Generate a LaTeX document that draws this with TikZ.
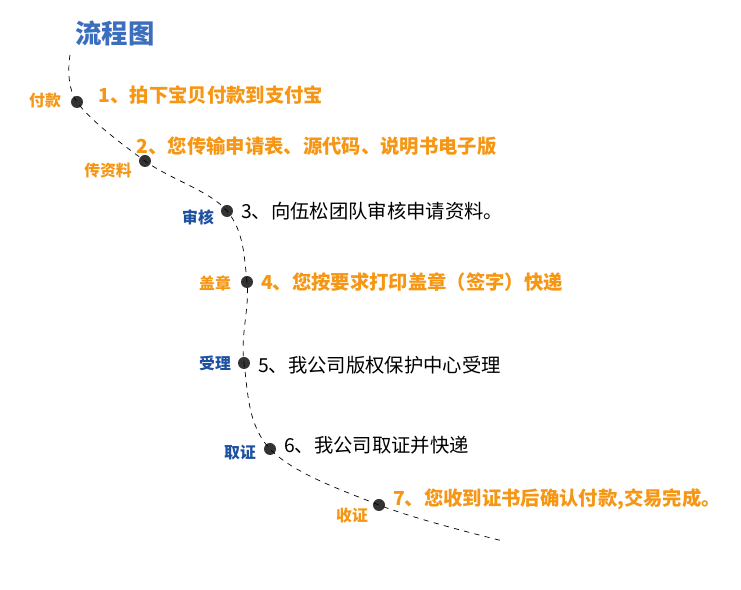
\documentclass[tikz,border=0pt]{standalone}
\usepackage{fontspec}
\setmainfont{Noto Sans CJK SC}
\usetikzlibrary{positioning}
\definecolor{stepor}{RGB}{245,150,20}
\definecolor{stepbl}{RGB}{30,80,160}
\definecolor{titlebl}{RGB}{60,110,190}
\tikzset{
  dotnode/.style={circle, fill=black!80, inner sep=0pt, minimum size=0.24cm},
  hotstep/.style={right=0.15cm, font=\fontsize{11}{13}\selectfont\bfseries, text=stepor, inner sep=0pt},
  plainstep/.style={right=0.15cm, font=\fontsize{11}{13}\selectfont, text=black, inner sep=0pt},
  tagor/.style={font=\fontsize{9}{10}\selectfont\bfseries, text=stepor, inner sep=0pt},
  tagbl/.style={font=\fontsize{9}{10}\selectfont\bfseries, text=stepbl, inner sep=0pt}
}
\begin{document}
\begin{tikzpicture}[x=0.02cm, y=-0.02cm]
  \useasboundingbox (0,0) rectangle (741,590);
  % title
  \node[font=\fontsize{15}{17}\selectfont\bfseries, text=titlebl] (title) at (115,33) {流程图};

  % dots on the path
  \coordinate (start) at (70,55);
  \node[dotnode] (d1) at (77,102) {};
  \node[dotnode] (d2) at (145,161) {};
  \node[dotnode] (d3) at (227,211) {};
  \node[dotnode] (d4) at (247,282) {};
  \node[dotnode] (d5) at (244,363) {};
  \node[dotnode] (d6) at (270,449) {};
  \node[dotnode] (d7) at (379,505) {};
  \coordinate (stop) at (503,541);

  % path
  \draw[dashed, thin] plot[smooth, tension=0.6] coordinates
    {(start) (d1.center) (d2.center) (d3.center) (d4.center) (d5.center) (d6.center) (d7.center) (stop)};

  % step texts
  \node[hotstep, xshift=0.15cm, yshift=0.14cm] (s1) at (d1.east) {1、拍下宝贝付款到支付宝};
  \node[hotstep, xshift=-0.45cm, yshift=0.3cm] (s2) at (d2.east) {2、您传输申请表、源代码、说明书电子版};
  \node[plainstep] (s3) at (d3.east) {3、向伍松团队审核申请资料。};
  \node[hotstep] (s4) at (d4.east) {4、您按要求打印盖章（签字）快递};
  \node[plainstep, yshift=-0.05cm] (s5) at (d5.east) {5、我公司版权保护中心受理};
  \node[plainstep, yshift=0.08cm] (s6) at (d6.east) {6、我公司取证并快递};
  \node[hotstep, yshift=0.12cm] (s7) at (d7.east) {7、您收到证书后确认付款,交易完成。};

  % tags
  \node[tagor] (t1) at (45,101) {付款};
  \node[tagor] (t2) at (108,171) {传资料};
  \node[tagbl] (t3) at (198,217) {审核};
  \node[tagor] (t4) at (215,283) {盖章};
  \node[tagbl] (t5) at (215,363) {受理};
  \node[tagbl] (t6) at (240,453) {取证};
  \node[tagor] (t7) at (352,516) {收证};
\end{tikzpicture}
\end{document}
